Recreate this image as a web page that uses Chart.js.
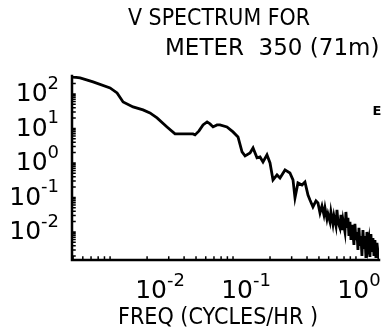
<!DOCTYPE html>
<html>
<head>
<meta charset="utf-8">
<script src="https://cdn.jsdelivr.net/npm/chart.js@4.4.1/dist/chart.umd.min.js"></script>
<style>
  html, body { margin: 0; padding: 0; background: #fff; }
  #wrap { width: 390px; height: 331px; position: relative; }
</style>
</head>
<body>
<div id="wrap"><canvas id="spectrum"></canvas></div>
<script>
// frequency (cycles/hr) and spectral level
const freq = [
  0.00491, 0.00570, 0.00727, 0.0100, 0.0114, 0.01276, 0.01538, 0.01854, 0.0211, 0.0241,
  0.02905, 0.03374, 0.0407, 0.0473, 0.0491, 0.0529, 0.0570, 0.0615, 0.0650, 0.0688,
  0.0741, 0.0783, 0.0893, 0.100, 0.1098, 0.1184, 0.1253, 0.1375, 0.1455, 0.1567,
  0.1659, 0.1754, 0.1889, 0.200, 0.2115, 0.228, 0.2411, 0.2649, 0.2904, 0.3076,
  0.3192, 0.3375, 0.3639, 0.3848, 0.4073, 0.4227, 0.447, 0.473,
  0.491, 0.510, 0.529, 0.549, 0.560, 0.581, 0.592, 0.615, 0.626, 0.650,
  0.662, 0.688, 0.701, 0.714, 0.741, 0.755, 0.769, 0.784, 0.814, 0.829,
  0.845, 0.861, 0.877, 0.894, 0.911, 0.928, 0.945, 0.963, 0.981, 1.000,
  1.019, 1.038, 1.058, 1.078, 1.098, 1.119, 1.140, 1.162, 1.184, 1.206,
  1.229, 1.252, 1.276, 1.300, 1.324, 1.349, 1.375, 1.401, 1.427, 1.454,
  1.482, 1.510, 1.538
];
const power = [
  311, 291, 223, 149, 107, 58.6, 42.0, 34.4, 28.1, 20.2,
  11.05, 6.93, 6.93, 6.93, 6.48, 8.47, 12.6, 15.4, 13.5, 11.05,
  12.6, 12.6, 11.05, 7.92, 5.67, 2.08, 1.60, 1.95, 2.72, 1.40,
  1.49, 1.07, 1.71, 1.00, 0.321, 0.449, 0.367, 0.627, 0.513, 0.321,
  0.0968, 0.263, 0.230, 0.281, 0.118, 0.0847, 0.0531, 0.0792,
  0.0693, 0.0355, 0.0567, 0.0311, 0.0496, 0.0238, 0.0332, 0.0195, 0.0380, 0.0171,
  0.0291, 0.0149, 0.0434, 0.0195, 0.0131, 0.0311, 0.0114, 0.0223, 0.0100, 0.0380,
  0.0131, 0.0255, 0.00766, 0.0195, 0.00586, 0.0160, 0.00935, 0.00420, 0.0171, 0.00586,
  0.0100, 0.00301, 0.0131, 0.00393, 0.00766, 0.00201, 0.0114, 0.00322, 0.00766, 0.00176,
  0.0100, 0.00367, 0.00586, 0.00189, 0.00875, 0.00263, 0.00670, 0.00201, 0.00586, 0.00176,
  0.00480, 0.00263, 0.00160
];

const xDecades = [0.01, 0.1, 1];
const xExponents = ["-2", "-1", "0"];
const yDecades = [100, 10, 1, 0.1, 0.01];
const yExponents = ["2", "1", "0", "-1", "-2"];

const titleLines = ["V SPECTRUM FOR", "METER  350 (71m)"];
const xTitle = "FREQ (CYCLES/HR )";
const sideMark = "E";

const FONT = '"DejaVu Sans", sans-serif';
// the lettered decade labels sit a little to the right of their ticks
const xLabelNudge = [50, 13, 3];

function minorValues(min, max) {
  const out = [];
  for (let e = Math.floor(Math.log10(min)); e <= Math.ceil(Math.log10(max)); e++) {
    for (let m = 1; m <= 9; m++) {
      const v = m * Math.pow(10, e);
      if (v >= min && v <= max) out.push(v);
    }
  }
  return out;
}

// axes, ticks and all lettering in the plotter style
const plotterFrame = {
  id: "plotterFrame",
  afterDraw(chart) {
    const { ctx, chartArea: a, scales: { x, y } } = chart;
    ctx.save();
    ctx.strokeStyle = "#000";
    ctx.fillStyle = "#000";
    ctx.lineCap = "square";

    ctx.lineWidth = 2.5;
    ctx.beginPath();
    ctx.moveTo(a.left, a.top);
    ctx.lineTo(a.left, a.bottom);
    ctx.lineTo(a.right, a.bottom);
    ctx.stroke();

    ctx.lineWidth = 1.5;
    ctx.beginPath();
    minorValues(x.min, x.max).forEach((v) => {
      const px = x.getPixelForValue(v);
      ctx.moveTo(px, a.bottom);
      ctx.lineTo(px, a.bottom - 3);
    });
    minorValues(y.min, y.max).forEach((v) => {
      const py = y.getPixelForValue(v);
      ctx.moveTo(a.left, py);
      ctx.lineTo(a.left + 3, py);
    });
    ctx.stroke();

    // y tick labels
    ctx.textBaseline = "middle";
    yDecades.forEach((v, i) => {
      const py = y.getPixelForValue(v);
      ctx.font = "18px " + FONT;
      const ew = ctx.measureText(yExponents[i]).width;
      ctx.textAlign = "right";
      ctx.fillText(yExponents[i], 59, py - 10);
      ctx.font = "25px " + FONT;
      ctx.fillText("10", 59 - ew, py + 1);
    });

    // x tick labels
    xDecades.forEach((v, i) => {
      const px = x.getPixelForValue(v) + xLabelNudge[i];
      ctx.font = "25px " + FONT;
      const bw = ctx.measureText("10").width;
      ctx.font = "18px " + FONT;
      const ew = ctx.measureText(xExponents[i]).width;
      const left = px - (bw + ew) / 2;
      ctx.textAlign = "left";
      ctx.fillText(xExponents[i], left + bw, 281);
      ctx.font = "25px " + FONT;
      ctx.fillText("10", left, 291);
    });

    ctx.font = "23px " + FONT;
    ctx.textAlign = "left";
    ctx.fillText(titleLines[0], 128, 19, 182);
    ctx.fillText(titleLines[1], 165, 49, 223);
    ctx.fillText(xTitle, 118, 318, 200);

    ctx.font = "bold 13px " + FONT;
    ctx.textAlign = "center";
    ctx.fillText(sideMark, 377, 112);
    ctx.restore();
  }
};

new Chart(document.getElementById("spectrum"), {
  type: "line",
  data: {
    datasets: [{
      data: freq.map((f, i) => ({ x: f, y: power[i] })),
      borderColor: "#000",
      borderWidth: 2.8,
      pointRadius: 0,
      tension: 0,
      fill: false
    }]
  },
  options: {
    responsive: true,
    maintainAspectRatio: false,
    animation: false,
    layout: { padding: { left: 72, right: 11, top: 76, bottom: 71 } },
    plugins: { legend: { display: false }, tooltip: { enabled: false } },
    scales: {
      x: {
        type: "logarithmic",
        min: 0.0049,
        max: 1.54,
        ticks: { display: false },
        grid: { display: false },
        border: { display: false },
        afterFit(scale) { scale.height = 0; }
      },
      y: {
        type: "logarithmic",
        min: 0.00154,
        max: 330,
        ticks: { display: false },
        grid: { display: false },
        border: { display: false },
        afterFit(scale) { scale.width = 0; }
      }
    }
  },
  plugins: [plotterFrame]
});
</script>
</body>
</html>
